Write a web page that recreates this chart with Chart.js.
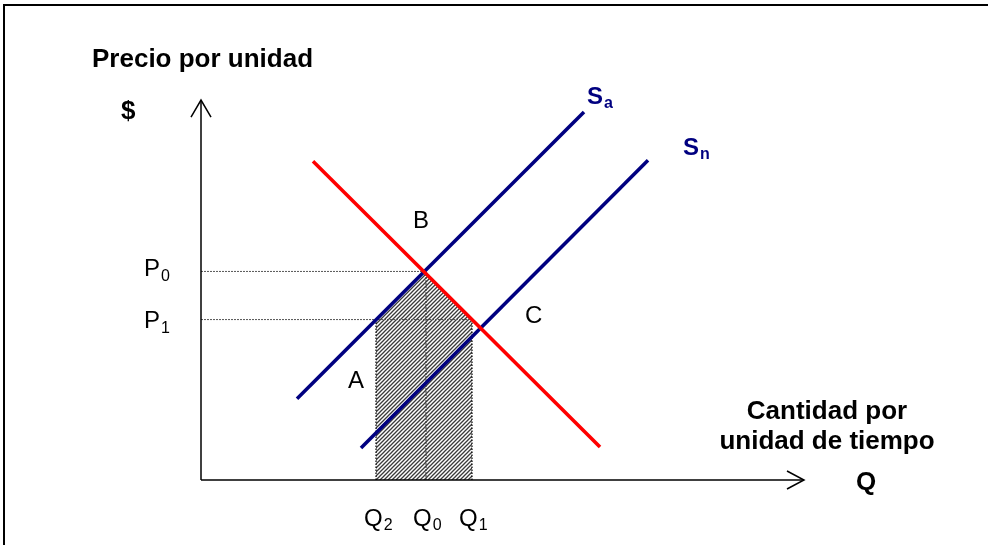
<!DOCTYPE html>
<html><head><meta charset="utf-8">
<script src="https://cdn.jsdelivr.net/npm/chart.js@4.4.1/dist/chart.umd.min.js"></script>
<style>
html,body{margin:0;padding:0;background:#fff;overflow:hidden;}
#wrap{position:relative;width:988px;height:545px;}
#frame{position:absolute;left:3px;top:4px;width:1100px;height:700px;border:2px solid #000;box-sizing:border-box;}
canvas{position:absolute;left:0;top:0;}
</style></head>
<body><div id="wrap"><div id="frame"></div><canvas id="c" width="988" height="545"></canvas></div>
<script>
// Data (abstract units: quantity on x, price on y)
const demandX = [11.2, 39.9];
const demandY = [31.8, 3.3];
const supplyAX = [9.6, 38.3];
const supplyAY = [8.1, 36.7];
const supplyNX = [16.0, 44.7];
const supplyNY = [3.2, 31.9];
const priceLevels = [20.8, 16.0];      // P0, P1
const quantityLevels = [17.5, 22.5, 27.1]; // Q2, Q0, Q1
const axisMaxX = 60.3;
const axisMaxY = 37.9;

const pts = (xs, ys) => xs.map((x, i) => ({x, y: ys[i]}));
const [P0, P1] = priceLevels;
const [Q2, Q0, Q1] = quantityLevels;

// hatch pattern
const pc = document.createElement('canvas');
pc.width = 4; pc.height = 4;
const pctx = pc.getContext('2d');
pctx.fillStyle = '#fff'; pctx.fillRect(0,0,4,4);
pctx.strokeStyle = '#3a3a3a'; pctx.lineWidth = 1.3;
pctx.beginPath();
pctx.moveTo(-1,5); pctx.lineTo(5,-1);
pctx.moveTo(-1,1); pctx.lineTo(1,-1);
pctx.moveTo(3,5); pctx.lineTo(5,3);
pctx.stroke();
const ctx0 = document.getElementById('c').getContext('2d');
const hatch = ctx0.createPattern(pc, 'repeat');

const base = {showLine:true, pointRadius:0, fill:false, clip:false, tension:0};
const datasets = [
  {...base, order:10, data: pts([Q2, Q0, Q1], [P1, P0, P1]), fill:'origin', backgroundColor: hatch, borderWidth:0},
  {...base, order:5, data: pts([0, Q0], [P0, P0]), borderColor:'#555', borderWidth:1, borderDash:[2,1]},
  {...base, order:5, data: pts([0, Q1], [P1, P1]), borderColor:'#555', borderWidth:1, borderDash:[2,1]},
  {...base, order:5, data: pts([Q0, Q0], [0, P0]), borderColor:'#333', borderWidth:1, borderDash:[2,1]},
  {...base, order:5, data: pts([Q2, Q2], [0, P1]), borderColor:'#000', borderWidth:1.2, borderDash:[1.5,1.5]},
  {...base, order:5, data: pts([Q1, Q1], [0, P1]), borderColor:'#000', borderWidth:1.2, borderDash:[1.5,1.5]},
  {...base, order:4, data: pts([0, 0], [0, axisMaxY]), borderColor:'#000', borderWidth:1.5},
  {...base, order:4, data: pts([0, axisMaxX], [0, 0]), borderColor:'#000', borderWidth:1.5},
  {...base, order:4, data: pts([-1, 0, 1], [axisMaxY-1.7, axisMaxY, axisMaxY-1.7]), borderColor:'#000', borderWidth:1.5},
  {...base, order:4, data: pts([axisMaxX-1.7, axisMaxX, axisMaxX-1.7], [0.9, 0, -0.9]), borderColor:'#000', borderWidth:1.5},
  {...base, order:2, data: pts(supplyAX, supplyAY), borderColor:'#000080', borderWidth:3.6, borderCapStyle:'butt'},
  {...base, order:2, data: pts(supplyNX, supplyNY), borderColor:'#000080', borderWidth:3.6, borderCapStyle:'butt'},
  {...base, order:1, data: pts(demandX, demandY), borderColor:'#ff0000', borderWidth:3.6, borderCapStyle:'butt'}
];

function sub(ctx, main, s, x, y, font, subFont, color, dy) {
  ctx.fillStyle = color;
  ctx.font = font; ctx.textBaseline = 'alphabetic'; ctx.textAlign = 'left';
  ctx.fillText(main, x, y);
  const w = ctx.measureText(main).width;
  ctx.font = subFont;
  ctx.fillText(s, x + w + 1, y + dy);
}

const labels = {
  id: 'labels',
  afterDatasetsDraw(chart) {
    const c = chart.ctx, xs = chart.scales.x, ys = chart.scales.y;
    const F = 'Liberation Sans, Arial, sans-serif';
    c.save();
    c.fillStyle = '#000'; c.textBaseline = 'alphabetic'; c.textAlign = 'left';
    c.font = 'bold 26px ' + F;
    c.fillText('Precio por unidad', 92, 67);
    c.fillText('$', 121, 119);
    c.textAlign = 'center';
    c.fillText('Cantidad por', 827, 419);
    c.fillText('unidad de tiempo', 827, 449);
    c.textAlign = 'left';
    c.fillText('Q', 856, 490);
    c.font = '24px ' + F;
    c.fillText('B', 413, 228);
    c.fillText('C', 525, 323);
    c.fillText('A', 348, 388);
    const yP0 = ys.getPixelForValue(P0), yP1 = ys.getPixelForValue(P1);
    sub(c, 'P', '0', 144, yP0 + 5, '24px ' + F, '16px ' + F, '#000', 5);
    sub(c, 'P', '1', 144, yP1 + 8, '24px ' + F, '16px ' + F, '#000', 5);
    sub(c, 'Q', '2', xs.getPixelForValue(Q2) - 12, 526, '24px ' + F, '16px ' + F, '#000', 4);
    sub(c, 'Q', '0', xs.getPixelForValue(Q0) - 13, 526, '24px ' + F, '16px ' + F, '#000', 4);
    sub(c, 'Q', '1', xs.getPixelForValue(Q1) - 13, 526, '24px ' + F, '16px ' + F, '#000', 4);
    sub(c, 'S', 'a', 587, 104, 'bold 24px ' + F, 'bold 16px ' + F, '#000080', 4);
    sub(c, 'S', 'n', 683, 155, 'bold 24px ' + F, 'bold 16px ' + F, '#000080', 4);
    c.restore();
  }
};

new Chart(document.getElementById('c'), {
  type: 'scatter',
  data: { datasets },
  options: {
    responsive: false, animation: false, devicePixelRatio: 1,
    layout: { padding: { left: 201, right: 184, top: 100, bottom: 65 } },
    plugins: { legend: {display:false}, tooltip: {enabled:false} },
    scales: {
      x: { type:'linear', min:0, max:axisMaxX, display:false },
      y: { type:'linear', min:0, max:axisMaxY, display:false }
    }
  },
  plugins: [labels]
});
</script>
</body></html>
